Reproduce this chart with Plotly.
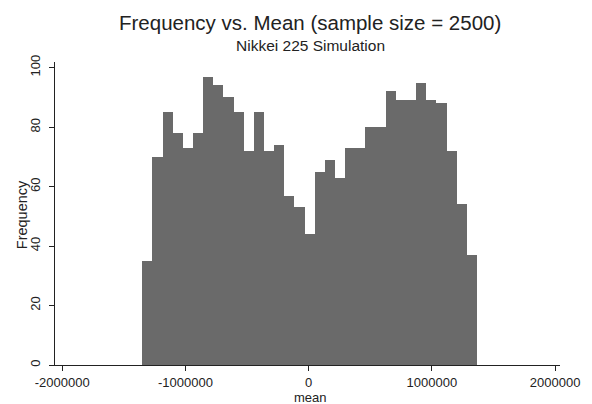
import plotly.graph_objects as go

# Histogram of simulated sample means (33 equal-width bins)
bin_start = -1350400
bin_width = 82300
counts = [35, 70, 85, 78, 73, 78, 97, 94, 90, 85, 72, 85, 72, 74, 57, 53, 44,
          65, 69, 63, 73, 73, 80, 80, 92, 89, 89, 95, 89, 88, 72, 54, 37]

x_ticks = [-2000000, -1000000, 0, 1000000, 2000000]
y_ticks = [0, 20, 40, 60, 80, 100]

centers = [bin_start + bin_width * (i + 0.5) for i in range(len(counts))]

FONT = "Arial, Liberation Sans, sans-serif"
INK = "#222222"

fig = go.Figure(
    go.Bar(
        x=centers,
        y=counts,
        width=bin_width,
        marker=dict(color="#6a6a6a", line=dict(width=0)),
        hoverinfo="x+y",
    )
)

fig.update_layout(
    width=592,
    height=404,
    margin=dict(l=55, r=26, t=62, b=39),
    paper_bgcolor="white",
    plot_bgcolor="white",
    bargap=0,
    showlegend=False,
    font=dict(family=FONT, color=INK, size=12),
    annotations=[
        dict(text="Frequency vs. Mean (sample size = 2500)", xref="paper", yref="paper",
             x=0.505, y=1.132, xanchor="center", yanchor="middle", showarrow=False,
             font=dict(size=20.5, family=FONT, color=INK)),
        dict(text="Nikkei 225 Simulation", xref="paper", yref="paper",
             x=0.505, y=1.053, xanchor="center", yanchor="middle", showarrow=False,
             font=dict(size=15.5, family=FONT, color=INK)),
        dict(text="Frequency", xref="paper", yref="paper", textangle=-90,
             x=-0.065, y=0.495, xanchor="center", yanchor="middle", showarrow=False,
             font=dict(size=14.5, family=FONT, color=INK)),
        dict(text="mean", xref="paper", yref="paper",
             x=0.505, y=-0.107, xanchor="center", yanchor="middle", showarrow=False,
             font=dict(size=13, family=FONT, color=INK)),
    ],
)

fig.update_xaxes(
    range=[-2058500, 2039300],
    tickmode="array",
    tickvals=x_ticks,
    ticktext=[str(v) for v in x_ticks],
    ticks="outside",
    ticklen=5,
    tickcolor=INK,
    showline=True,
    linecolor=INK,
    linewidth=1,
    showgrid=False,
    zeroline=False,
    tickfont=dict(size=13),
)

fig.update_yaxes(
    range=[0, 101.9],
    tickmode="array",
    tickvals=y_ticks,
    ticktext=[str(v) for v in y_ticks],
    tickangle=-90,
    ticks="outside",
    ticklen=5,
    tickcolor=INK,
    showline=True,
    linecolor=INK,
    linewidth=1,
    showgrid=False,
    zeroline=False,
    tickfont=dict(size=13),
    ticklabelstandoff=4,
)

fig.write_html("out.html")
